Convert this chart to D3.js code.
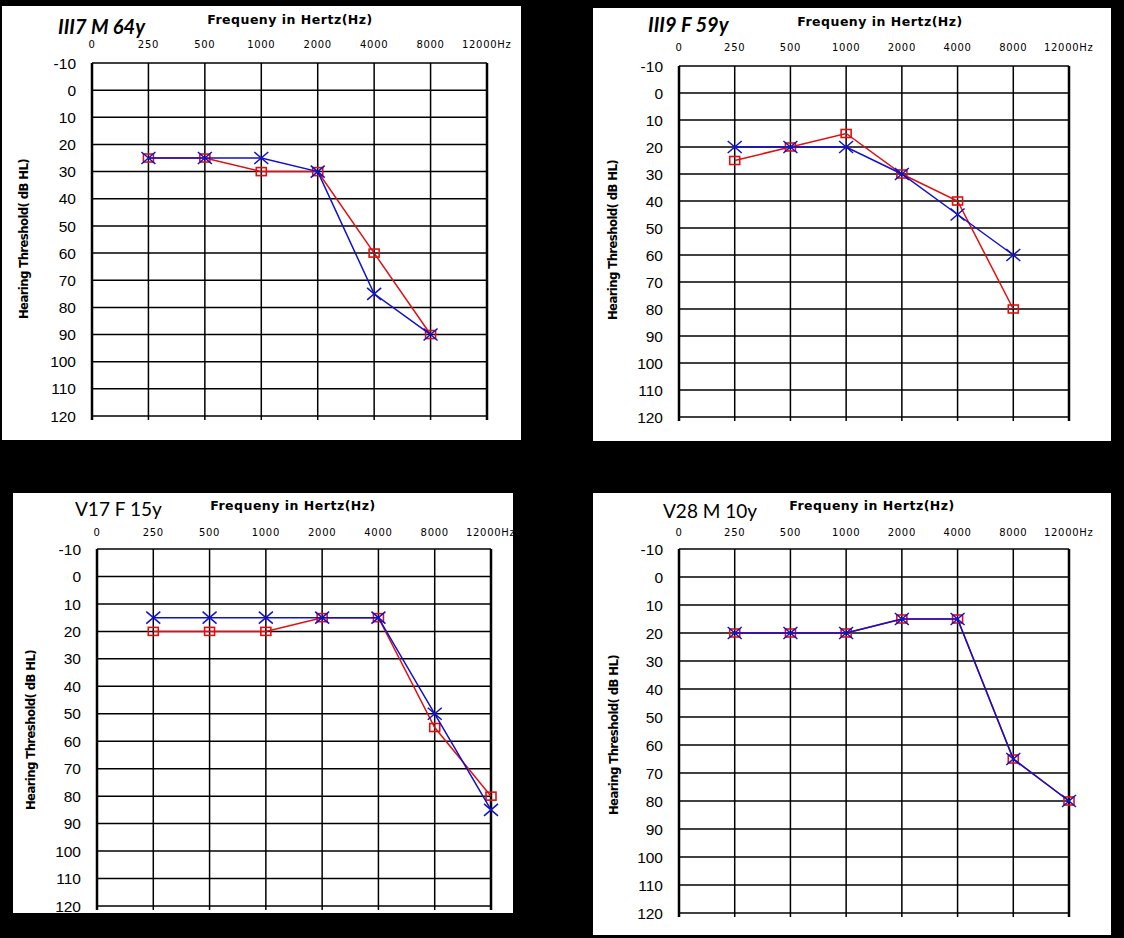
<!DOCTYPE html>
<html>
<head>
<meta charset="utf-8">
<script src="https://cdn.jsdelivr.net/npm/d3@7"></script>
<style>
  body { margin: 0; background: #000; }
  svg { display: block; }
</style>
</head>
<body>
<div id="chart"></div>
<script>
// tick labels shared by all four audiograms
var freqLabels = ["0", "250", "500", "1000", "2000", "4000", "8000", "12000Hz"];
var dbTicks = [-10, 0, 10, 20, 30, 40, 50, 60, 70, 80, 90, 100, 110, 120];

// III7 M 64y
var p1Freqs = ["250", "500", "1000", "2000", "4000", "8000"];
var p1Red = [25, 25, 30, 30, 60, 90];
var p1Blue = [25, 25, 25, 30, 75, 90];

// III9 F 59y
var p2Freqs = ["250", "500", "1000", "2000", "4000", "8000"];
var p2Red = [25, 20, 15, 30, 40, 80];
var p2Blue = [20, 20, 20, 30, 45, 60];

// V17 F 15y
var p3Freqs = ["250", "500", "1000", "2000", "4000", "8000", "12000Hz"];
var p3Red = [20, 20, 20, 15, 15, 55, 80];
var p3Blue = [15, 15, 15, 15, 15, 50, 85];

// V28 M 10y
var p4Freqs = ["250", "500", "1000", "2000", "4000", "8000", "12000Hz"];
var p4Red = [20, 20, 20, 15, 15, 65, 80];
var p4Blue = [20, 20, 20, 15, 15, 65, 80];

var svg = d3.select("#chart").append("svg")
  .attr("width", 1124)
  .attr("height", 938);

svg.append("rect").attr("width", 1124).attr("height", 938).attr("fill", "#000");

var drawPanel = function(cfg) {
  var g = svg.append("g");

  // white card
  g.append("rect")
    .attr("x", cfg.box[0]).attr("y", cfg.box[1])
    .attr("width", cfg.box[2] - cfg.box[0])
    .attr("height", cfg.box[3] - cfg.box[1])
    .attr("fill", "#fff");

  var xScale = d3.scalePoint().domain(freqLabels).range([cfg.plot[0], cfg.plot[1]]);
  var yScale = d3.scaleLinear().domain([-10, 120]).range([cfg.plot[2], cfg.plot[3]]);

  // horizontal grid
  g.selectAll(".hgrid").data(dbTicks).enter().append("line")
    .attr("x1", cfg.plot[0]).attr("x2", cfg.plot[1])
    .attr("y1", function(d) { return yScale(d); })
    .attr("y2", function(d) { return yScale(d); })
    .attr("stroke", "#000").attr("stroke-width", 1.5);

  // vertical grid (with small ticks below the bottom line)
  g.selectAll(".vgrid").data(freqLabels).enter().append("line")
    .attr("x1", function(d) { return xScale(d); })
    .attr("x2", function(d) { return xScale(d); })
    .attr("y1", cfg.plot[2])
    .attr("y2", cfg.plot[3] + 4)
    .attr("stroke", "#000")
    .attr("stroke-width", function(d, i) { return (i == 0 || i == freqLabels.length - 1) ? 2.5 : 1.5; });

  // y tick labels
  g.selectAll(".ylab").data(dbTicks).enter().append("text")
    .attr("x", cfg.plot[0] - 16)
    .attr("y", function(d) { return yScale(d); })
    .attr("dy", "0.36em")
    .attr("text-anchor", "end")
    .attr("font-family", "Liberation Sans, Arial, sans-serif")
    .attr("font-size", "15.5px")
    .attr("fill", "#000")
    .text(function(d) { return d; });

  // x tick labels along the top
  g.selectAll(".xlab").data(freqLabels).enter().append("text")
    .attr("x", function(d, i) { return xScale(d); })
    .attr("y", cfg.xLabY)
    .attr("dy", "0.35em")
    .attr("text-anchor", function(d, i) { return i == freqLabels.length - 1 ? "start" : "middle"; })
    .attr("dx", function(d, i) { return i == freqLabels.length - 1 ? -25 : 0; })
    .attr("font-family", "DejaVu Sans, Verdana, sans-serif")
    .attr("font-size", "10px")
    .attr("letter-spacing", "0.7px")
    .attr("fill", "#000")
    .text(function(d) { return d; });

  // axis title on top
  g.append("text")
    .attr("x", cfg.freqTitle[0]).attr("y", cfg.freqTitle[1])
    .attr("dy", "0.35em")
    .attr("text-anchor", "middle")
    .attr("font-family", "DejaVu Sans, Verdana, sans-serif")
    .attr("font-weight", "bold")
    .attr("font-size", "12.5px")
    .attr("letter-spacing", "0.5px")
    .attr("fill", "#000")
    .text("Frequeny in Hertz(Hz)");

  // rotated y title
  g.append("text")
    .attr("transform", "translate(" + cfg.yTitle[0] + "," + cfg.yTitle[1] + ") rotate(-90)")
    .attr("dy", "0.35em")
    .attr("text-anchor", "middle")
    .attr("font-family", "DejaVu Sans Condensed, DejaVu Sans, sans-serif")
    .attr("font-weight", "bold")
    .attr("font-size", "13px")
    .attr("letter-spacing", "-0.6px")
    .attr("fill", "#000")
    .text("Hearing Threshold( dB HL)");

  // subject label
  g.append("text")
    .attr("x", cfg.label[0]).attr("y", cfg.label[1])
    .attr("dy", "0.35em")
    .attr("font-family", "Lato, Open Sans, sans-serif")
    .attr("font-style", cfg.italic ? "italic" : "normal")
    .attr("font-weight", cfg.italic ? "bold" : "normal")
    .attr("font-size", cfg.italic ? "20px" : "19px")
    .attr("fill", "#000")
    .text(cfg.name);

  var line = d3.line()
    .x(function(d) { return xScale(d[0]); })
    .y(function(d) { return yScale(d[1]); });

  var redPts = cfg.freqs.map(function(f, i) { return [f, cfg.red[i]]; });
  var bluePts = cfg.freqs.map(function(f, i) { return [f, cfg.blue[i]]; });

  g.append("path").datum(redPts)
    .attr("d", line).attr("fill", "none")
    .attr("stroke", "#e01010").attr("stroke-width", 1.5);

  // red square markers
  g.selectAll(".sq").data(redPts).enter().append("rect")
    .attr("x", function(d) { return xScale(d[0]) - 5; })
    .attr("y", function(d) { return yScale(d[1]) - 4; })
    .attr("width", 10).attr("height", 8)
    .attr("fill", "none")
    .attr("stroke", "#e01010").attr("stroke-width", 1.6);

  g.append("path").datum(bluePts)
    .attr("d", line).attr("fill", "none")
    .attr("stroke", "#1010d0").attr("stroke-width", 1.5);

  // blue X markers
  g.selectAll(".cross").data(bluePts).enter().append("path")
    .attr("d", function(d) {
      var x = xScale(d[0]), y = yScale(d[1]);
      return "M" + (x - 7) + "," + (y - 6) + "L" + (x + 7) + "," + (y + 6) +
             "M" + (x - 7) + "," + (y + 6) + "L" + (x + 7) + "," + (y - 6);
    })
    .attr("fill", "none")
    .attr("stroke", "#1010d0").attr("stroke-width", 1.5);
};

drawPanel({ name: "III7 M 64y", italic: true, freqs: p1Freqs, red: p1Red, blue: p1Blue,
  box: [2, 6, 521, 440], plot: [92, 487, 63, 416], xLabY: 44,
  freqTitle: [290, 20], yTitle: [23, 239], label: [58, 27] });

drawPanel({ name: "III9 F 59y", italic: true, freqs: p2Freqs, red: p2Red, blue: p2Blue,
  box: [593, 8, 1111, 441], plot: [679, 1069, 66, 417], xLabY: 47,
  freqTitle: [880, 22], yTitle: [612, 240], label: [648, 25] });

drawPanel({ name: "V17 F 15y", italic: false, freqs: p3Freqs, red: p3Red, blue: p3Blue,
  box: [13, 493, 513, 913], plot: [97, 491, 549, 906], xLabY: 532,
  freqTitle: [293, 506], yTitle: [30, 730], label: [75, 509] });

drawPanel({ name: "V28 M 10y", italic: false, freqs: p4Freqs, red: p4Red, blue: p4Blue,
  box: [593, 493, 1111, 935], plot: [679, 1069, 549, 913], xLabY: 532,
  freqTitle: [872, 506], yTitle: [613, 735], label: [663, 511] });
</script>
</body>
</html>
